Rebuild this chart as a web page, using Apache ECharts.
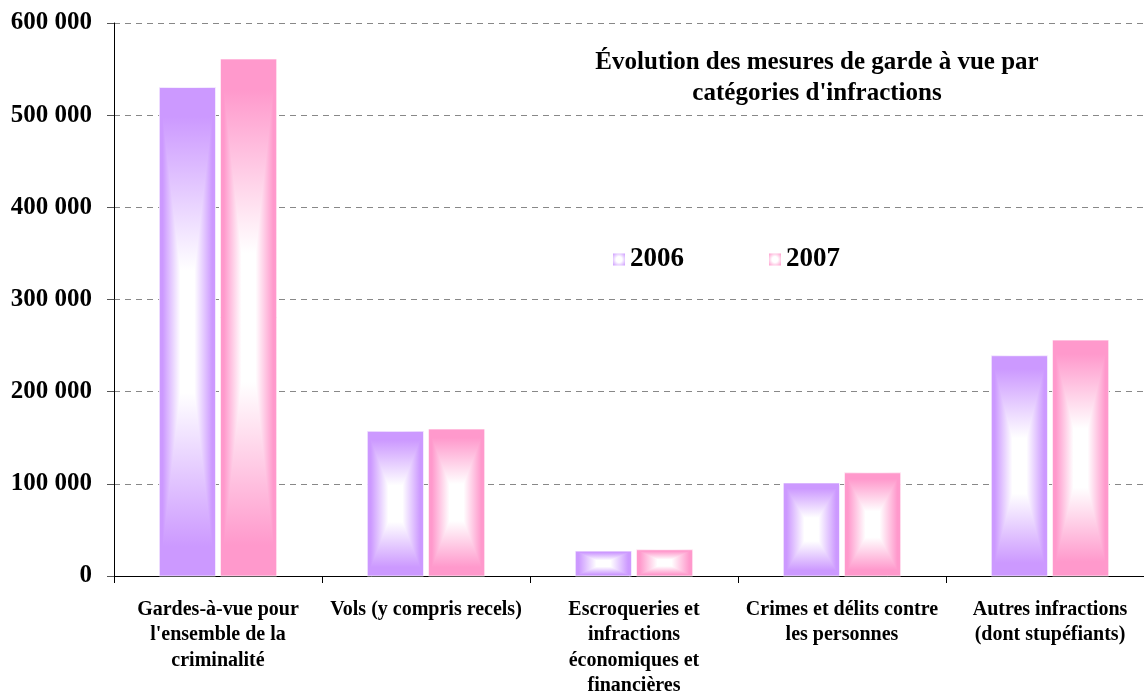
<!DOCTYPE html>
<html>
<head>
<meta charset="utf-8">
<script src="https://cdn.jsdelivr.net/npm/echarts@6/dist/echarts.min.js"></script>
<style>html,body{margin:0;padding:0;background:#fff;overflow:hidden}#c{width:1144px;height:695px}</style>
</head>
<body>
<div id="c"></div>
<script>
var categories = [
  "Gardes-à-vue pour\nl'ensemble de la\ncriminalité",
  "Vols (y compris recels)",
  "Escroqueries et\ninfractions\néconomiques et\nfinancières",
  "Crimes et délits contre\nles personnes",
  "Autres infractions\n(dont stupéfiants)"
];
var seriesNames = ["2006", "2007"];
var values2006 = [530000, 157000, 27000, 101000, 239000];
var values2007 = [561000, 159500, 28500, 112000, 256000];
var yTicks = [0, 100000, 200000, 300000, 400000, 500000, 600000];
var titleText = "Évolution des mesures de garde à vue par\ncatégories d'infractions";

var colors = ["#CC99FF", "#FF99CC"];
var FONT = "'Liberation Serif','Times New Roman',serif";

function stops(c) {
  return [{offset: 0, color: c}, {offset: 0.12, color: c}, {offset: 0.75, color: '#ffffff'}, {offset: 1, color: '#ffffff'}];
}
function lg(x, y, x2, y2, c) {
  return new echarts.graphic.LinearGradient(x, y, x2, y2, stops(c));
}
function symH(c) {
  return new echarts.graphic.LinearGradient(0, 0, 1, 0, [
    {offset: 0, color: c}, {offset: 0.06, color: c}, {offset: 0.375, color: '#ffffff'}, {offset: 0.625, color: '#ffffff'},
    {offset: 0.94, color: c}, {offset: 1, color: c}
  ]);
}

function makeRender(sIdx) {
  var c = colors[sIdx];
  return function (params, api) {
    var idx = api.value(0);
    var val = api.value(1);
    var base = api.coord([idx, 0]);
    var top = api.coord([idx, val]);
    var band = api.size([1, 0])[0];
    var bw = band * 0.27;
    var gap = band * 0.024;
    var x0 = sIdx === 0 ? base[0] - gap / 2 - bw : base[0] + gap / 2;
    var x1 = x0 + bw;
    var y0 = top[1], y1 = base[1];
    var cx = (x0 + x1) / 2, cy = (y0 + y1) / 2;
    return {
      type: 'group',
      children: [
        {type: 'rect', shape: {x: x0, y: y0, width: bw, height: y1 - y0}, style: {fill: symH(c)}},
        {type: 'polygon', shape: {points: [[x0, y0], [x1, y0], [cx, cy]]}, style: {fill: lg(0, 0, 0, 1, c)}},
        {type: 'polygon', shape: {points: [[x0, y1], [x1, y1], [cx, cy]]}, style: {fill: lg(0, 1, 0, 0, c)}},
        {type: 'polygon', shape: {points: [[x0, y0], [x0, y1], [cx, cy]]}, style: {fill: lg(0, 0, 1, 0, c)}},
        {type: 'polygon', shape: {points: [[x1, y0], [x1, y1], [cx, cy]]}, style: {fill: lg(1, 0, 0, 0, c)}},
        {type: 'rect', shape: {x: x0, y: y0, width: bw, height: y1 - y0}, style: {fill: null, stroke: 'rgba(255,255,255,0.7)', lineWidth: 1}}
      ]
    };
  };
}

function legendColor(c) {
  return new echarts.graphic.RadialGradient(0.5, 0.5, 0.7, [
    {offset: 0, color: '#ffffff'}, {offset: 0.35, color: '#ffffff'}, {offset: 1, color: c}
  ]);
}

var chart = echarts.init(document.getElementById('c'));
chart.setOption({
  animation: false,
  backgroundColor: '#ffffff',
  title: {
    text: titleText,
    left: 812, top: 42, textAlign: 'center',
    textStyle: {fontFamily: FONT, fontWeight: 'bold', fontSize: 25, lineHeight: 31, color: '#000'}
  },
  legend: {
    left: 608, top: 241,
    itemWidth: 12, itemHeight: 12, itemGap: 85,
    icon: 'rect',
    textStyle: {fontFamily: FONT, fontWeight: 'bold', fontSize: 27, color: '#000'},
    data: seriesNames
  },
  grid: {left: 114, top: 23, width: 1040, height: 553, containLabel: false, outerBoundsMode: 'none'},
  xAxis: {
    type: 'category',
    data: categories,
    axisLine: {lineStyle: {color: '#000', width: 1}},
    axisTick: {show: true, length: 7, lineStyle: {color: '#000'}},
    axisLabel: {interval: 0, margin: 21, fontFamily: FONT, fontWeight: 'bold', fontSize: 20, lineHeight: 25.5, color: '#000', align: 'center'},
    splitLine: {show: false}
  },
  yAxis: {
    type: 'value',
    min: yTicks[0], max: yTicks[yTicks.length - 1], interval: 100000,
    axisLine: {show: true, lineStyle: {color: '#000', width: 1}},
    axisTick: {show: true, length: 7, lineStyle: {color: '#555'}},
    axisLabel: {
      margin: 22, fontFamily: FONT, fontWeight: 'bold', fontSize: 25, color: '#000',
      formatter: function (v) { return v === 0 ? '0' : String(v).replace(/\B(?=(\d{3})+(?!\d))/g, ' '); }
    },
    splitLine: {show: true, lineStyle: {color: '#888', type: [6, 5], width: 1}}
  },
  series: [0, 1].map(function (s) {
    var vals = s === 0 ? values2006 : values2007;
    return {
      name: seriesNames[s],
      type: 'custom',
      renderItem: makeRender(s),
      itemStyle: {color: legendColor(colors[s])},
      encode: {x: 0, y: 1},
      data: vals.map(function (v, i) { return [i, v]; })
    };
  })
});
</script>
</body>
</html>
